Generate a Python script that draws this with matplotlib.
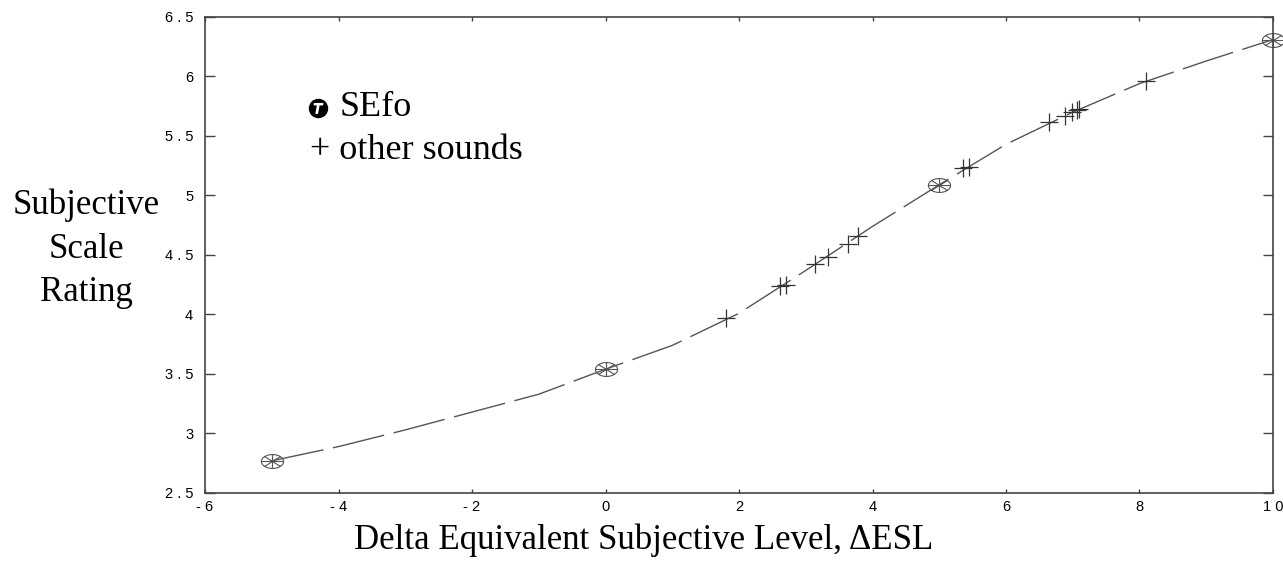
import numpy as np
import matplotlib.pyplot as plt
from matplotlib.path import Path

# SEfo reference sounds
sefo_x = [-5, 0, 5, 10]
sefo_y = [2.77, 3.54, 5.09, 6.31]

# other sounds
other_x = [1.80, 2.62, 2.70, 3.14, 3.34, 3.63, 3.78, 5.35, 5.45, 6.64, 6.88, 6.99, 7.06, 7.10, 8.10]
other_y = [3.97, 4.24, 4.25, 4.42, 4.48, 4.59, 4.66, 5.23, 5.24, 5.62, 5.67, 5.70, 5.72, 5.73, 5.96]

# fitted curve
curve_x = [-5, -4, -3, -2, -1, 0, 1, 2, 3, 4, 5, 6, 7, 8, 9, 10]
curve_y = [2.77, 2.89, 3.03, 3.18, 3.33, 3.54, 3.74, 4.01, 4.37, 4.74, 5.09, 5.43, 5.70, 5.94, 6.13, 6.31]

xticks = [-6, -4, -2, 0, 2, 4, 6, 8, 10]
xtick_labels = ["- 6", "- 4", "- 2", "0", "2", "4", "6", "8", "1 0"]
yticks = [2.5, 3, 3.5, 4, 4.5, 5, 5.5, 6, 6.5]
ytick_labels = ["2 . 5", "3", "3 . 5", "4", "4 . 5", "5", "5 . 5", "6", "6 . 5"]


def ellipse_marker():
    # ellipse with spokes, wider than tall
    t = np.linspace(0, 2 * np.pi, 40)
    verts = list(zip(1.6 * np.cos(t), np.sin(t)))
    codes = [Path.MOVETO] + [Path.LINETO] * (len(verts) - 1)
    for a in np.deg2rad([0, 45, 90, 135]):
        dx, dy = 1.6 * np.cos(a), np.sin(a)
        verts += [(-dx, -dy), (dx, dy)]
        codes += [Path.MOVETO, Path.LINETO]
    return Path(verts, codes)


fig = plt.figure(figsize=(12.83, 5.62), dpi=100)
ax = fig.add_axes([0.1598, 0.1228, 0.8324, 0.847])

ax.plot(curve_x, curve_y, color="#555555", lw=1.0, dashes=(38, 7))
ax.plot(sefo_x, sefo_y, linestyle="none", marker=ellipse_marker(), ms=16,
        mfc="none", mec="#555555", mew=0.8, clip_on=False)
ax.plot(other_x, other_y, linestyle="none", marker="+", ms=13,
        mec="#333333", mew=0.9)

ax.set_xlim(-6, 10)
ax.set_ylim(2.5, 6.5)
ax.set_xticks(xticks)
ax.set_xticklabels(xtick_labels)
ax.set_yticks(yticks)
ax.set_yticklabels(ytick_labels)
ax.tick_params(direction="in", width=1, color="#444444", labelsize=10.5,
               top=True, right=True)
ax.tick_params(axis="x", length=3, pad=5)
ax.tick_params(axis="y", length=7, pad=8.5)
for lab in ax.get_xticklabels() + ax.get_yticklabels():
    lab.set_family("Liberation Sans")
for s in ax.spines.values():
    s.set_color("#444444")
    s.set_linewidth(1.2)

serif = "Liberation Serif"
fig.text(0.067, 0.557, "Subjective\nScale\nRating", ha="center", va="center",
         fontsize=25, family=serif, linespacing=1.42)
fig.text(0.502, 0.038, "Delta Equivalent Subjective Level, \u0394ESL", ha="center",
         va="center", fontsize=25, family=serif)

# legend drawn as text
ax.plot([0.106], [0.809], transform=ax.transAxes, marker="o", ms=13,
        mfc="black", mec="black", linestyle="none")
ax.plot([0.106], [0.809], transform=ax.transAxes, marker="$T$", ms=7,
        mfc="white", mec="white", linestyle="none")
ax.text(0.126, 0.809, "SEfo", transform=ax.transAxes, fontsize=26,
        family=serif, va="center")
ax.text(0.098, 0.72, "+ other sounds", transform=ax.transAxes, fontsize=26,
        family=serif, va="center")

fig.savefig("out.png", dpi=100)
